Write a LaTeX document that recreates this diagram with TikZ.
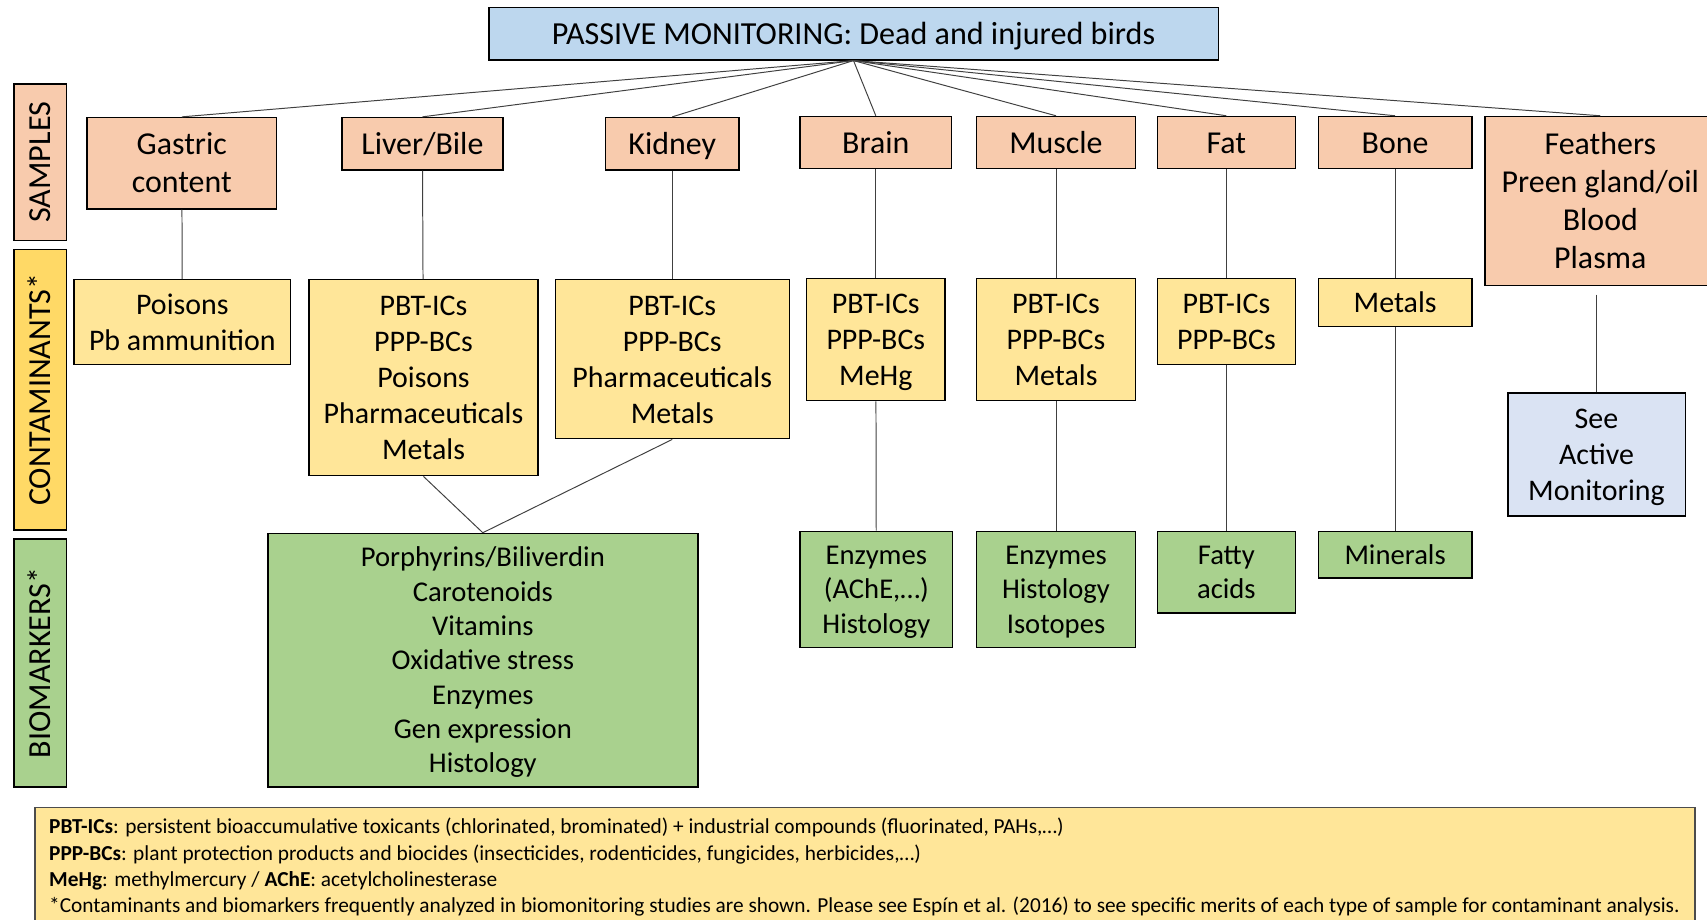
\documentclass[tikz,border=0pt]{standalone}
\usepackage{fontspec}
\setmainfont{Carlito}
\definecolor{topblue}{HTML}{BDD7EE}
\definecolor{salmon}{HTML}{F8CBAD}
\definecolor{lyellow}{HTML}{FFE699}
\definecolor{dyellow}{HTML}{FFD966}
\definecolor{lgreen}{HTML}{A9D18E}
\definecolor{seeblue}{HTML}{DAE3F3}
\definecolor{conn}{HTML}{404040}
\newcommand{\ft}{\rule{0pt}{0.93em}}
\tikzset{
  box/.style={draw=black, line width=1.3pt, inner sep=1pt, align=center,
    font=\fontsize{27.5}{33}\selectfont,
    execute at end node={\rule[-0.27em]{0pt}{0pt}}},
  samp/.style={box, fill=salmon, font=\fontsize{29.3}{35}\selectfont},
  cont/.style={box, fill=lyellow},
  bio/.style={box, fill=lgreen, font=\fontsize{26.3}{31.5}\selectfont},
  side/.style={box, rotate=90, minimum height=48pt, font=\fontsize{29.5}{35}\selectfont},
  link/.style={draw=conn, line width=0.9pt},
  foot/.style={anchor=base west, inner sep=0pt, font=\fontsize{19.6}{24}\selectfont}
}
\begin{document}
\begin{tikzpicture}[x=1pt,y=-1pt]
\useasboundingbox (0,0) rectangle (1568,845);
% side labels
\node[side, fill=salmon, minimum width=144pt] (lsamp) at (37,149) {\ft SAMPLES};
\node[side, fill=dyellow, minimum width=258pt] (lcont) at (37,358) {\ft CONTAMINANTS*};
\node[side, fill=lgreen, minimum width=228pt] (lbio) at (37,609) {\ft BIOMARKERS*};
% top
\node[box, fill=topblue, minimum width=670pt, minimum height=48pt, font=\fontsize{29.5}{35}\selectfont] (top) at (784,31) {\ft PASSIVE MONITORING: Dead and injured birds};
% samples
\node[samp, minimum width=174pt, minimum height=84pt] (gastric) at (167,150) {\ft Gastric\\content};
\node[samp, minimum width=148pt, minimum height=48pt] (liver) at (388,132) {\ft Liver/Bile};
\node[samp, minimum width=123pt, minimum height=48pt] (kidney) at (617.5,132) {\ft Kidney};
\node[samp, minimum width=139pt, minimum height=48pt] (brain) at (804.5,131) {\ft Brain};
\node[samp, minimum width=146pt, minimum height=48pt] (muscle) at (970,131) {\ft Muscle};
\node[samp, minimum width=127pt, minimum height=48pt] (fat) at (1126.5,131) {\ft Fat};
\node[samp, minimum width=141pt, minimum height=48pt] (bone) at (1281.5,131) {\ft Bone};
\node[samp, minimum width=212pt, minimum height=155pt] (feathers) at (1470,184.5) {\ft Feathers\\Preen gland/oil\\Blood\\Plasma};
% contaminants
\node[cont, minimum width=199pt, minimum height=78pt] (c1) at (167.5,296) {\ft Poisons\\Pb ammunition};
\node[cont, minimum width=210pt, minimum height=180pt] (c2) at (389,347) {\ft PBT-ICs\\PPP-BCs\\Poisons\\Pharmaceuticals\\Metals};
\node[cont, minimum width=215pt, minimum height=146pt] (c3) at (617.5,330) {\ft PBT-ICs\\PPP-BCs\\Pharmaceuticals\\Metals};
\node[cont, minimum width=127pt, minimum height=112pt] (c4) at (804.5,312) {\ft PBT-ICs\\PPP-BCs\\MeHg};
\node[cont, minimum width=146pt, minimum height=112pt] (c5) at (970,312) {\ft PBT-ICs\\PPP-BCs\\Metals};
\node[cont, minimum width=127pt, minimum height=79pt] (c6) at (1126.5,295.5) {\ft PBT-ICs\\PPP-BCs};
\node[cont, minimum width=141pt, minimum height=44pt] (c7) at (1281.5,278) {\ft Metals};
\node[box, fill=seeblue, minimum width=163pt, minimum height=113pt] (see) at (1466.5,417.5) {\ft See\\Active\\Monitoring};
% biomarkers
\node[bio, minimum width=395pt, minimum height=233pt] (b1) at (443.5,606.5) {\ft Porphyrins/Biliverdin\\Carotenoids\\Vitamins\\Oxidative stress\\Enzymes\\Gen expression\\Histology};
\node[bio, minimum width=140pt, minimum height=107pt] (b2) at (805,541.5) {\ft Enzymes\\(AChE,\dots)\\Histology};
\node[bio, minimum width=146pt, minimum height=107pt] (b3) at (970,541.5) {\ft Enzymes\\Histology\\Isotopes};
\node[bio, minimum width=127pt, minimum height=75pt] (b4) at (1126.5,525.5) {\ft Fatty\\acids};
\node[bio, minimum width=141pt, minimum height=43pt] (b5) at (1281.5,509.5) {\ft Minerals};
% connectors
\foreach \n in {gastric,liver,kidney,brain,muscle,fat,bone,feathers}
  \draw[link] (top.south) -- (\n.north);
\draw[link] (gastric) -- (c1);
\draw[link] (liver) -- (c2);
\draw[link] (kidney) -- (c3);
\draw[link] (brain) -- (c4);
\draw[link] (muscle) -- (c5);
\draw[link] (fat) -- (c6);
\draw[link] (bone) -- (c7);
\draw[link, shorten <=8pt] (feathers.south -| see.north) -- (see.north);
\draw[link] (c2.south) -- (b1.north);
\draw[link] (c3.south) -- (b1.north);
\draw[link] (c4) -- (b2);
\draw[link] (c5) -- (b3);
\draw[link] (c6) -- (b4);
\draw[link] (c7) -- (b5);
% footer
\draw[draw=black!70, line width=1.3pt, fill=lyellow] (32,742) rectangle (1557,870);
\node[foot] (f1) at (45,766) {\textbf{PBT-ICs}: persistent bioaccumulative toxicants (chlorinated, brominated) + industrial compounds (fluorinated, PAHs,\dots)};
\node[foot] (f2) at (45,790) {\textbf{PPP-BCs}: plant protection products and biocides (insecticides, rodenticides, fungicides, herbicides,\dots)};
\node[foot] (f3) at (45,814) {\textbf{MeHg}: methylmercury / \textbf{AChE}: acetylcholinesterase};
\node[foot] (f4) at (45,838) {*Contaminants and biomarkers frequently analyzed in biomonitoring studies are shown. Please see Espín et al. (2016) to see specific merits of each type of sample for contaminant analysis.};
\end{tikzpicture}
\end{document}
